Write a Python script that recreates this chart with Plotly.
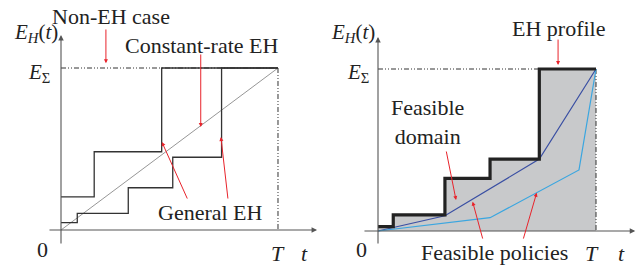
import plotly.graph_objects as go

# ---------------- data (units: T = 10, E_sigma = 10) ----------------
T = 10.0
E_SIGMA = 10.0

# left panel: two general EH profiles (step functions)
gen1_t = [0, 1.53, 4.64, 10]
gen1_e = [2.04, 4.83, 10, 10]
gen2_t = [0, 0.75, 3.1, 5.15, 7.4, 10]
gen2_e = [0.45, 1.03, 2.61, 4.49, 10, 10]
# constant-rate EH
const_t = [0, 10]
const_e = [0, 10]

# right panel: EH profile and feasible policies
prof_t = [0, 0.70, 3.07, 5.14, 7.40, 10]
prof_e = [0.27, 0.99, 3.25, 4.44, 10, 10]
pol1_t = [0, 3.07, 7.40, 10]
pol1_e = [0, 0.94, 4.44, 10]
pol2_t = [0, 5.14, 9.22, 10]
pol2_e = [0, 0.82, 3.77, 10]

FONT = "Liberation Serif"
TXT = "#222222"
RED = "#e8232b"
DASH = "5px,2px,1px,2px,1px,2px"

fig = go.Figure()

def add(tr, right):
    if right:
        tr.update(xaxis="x2", yaxis="y2")
    fig.add_trace(tr)

# ---- left panel ----
add(go.Scatter(x=[0, T], y=[E_SIGMA, E_SIGMA], mode="lines",
               line=dict(color="#333", width=1, dash=DASH)), False)
add(go.Scatter(x=[T, T], y=[E_SIGMA, 0], mode="lines",
               line=dict(color="#333", width=1, dash=DASH)), False)
add(go.Scatter(x=const_t, y=const_e, mode="lines",
               line=dict(color="#8a8a8a", width=0.9)), False)
add(go.Scatter(x=gen1_t, y=gen1_e, mode="lines", line_shape="hv",
               line=dict(color="#333", width=1.3)), False)
add(go.Scatter(x=gen2_t, y=gen2_e, mode="lines", line_shape="hv",
               line=dict(color="#333", width=1.3)), False)

# ---- right panel ----
add(go.Scatter(x=prof_t, y=prof_e, mode="lines", line_shape="hv",
               fill="tozeroy", fillcolor="#c8c9cb", line=dict(width=0)), True)
add(go.Scatter(x=[0, prof_t[-2]], y=[E_SIGMA, E_SIGMA], mode="lines",
               line=dict(color="#333", width=1, dash=DASH)), True)
add(go.Scatter(x=[T, T], y=[E_SIGMA, 0], mode="lines",
               line=dict(color="#333", width=1, dash=DASH)), True)
add(go.Scatter(x=pol1_t, y=pol1_e, mode="lines",
               line=dict(color="#3a4fa3", width=1.2)), True)
add(go.Scatter(x=pol2_t, y=pol2_e, mode="lines",
               line=dict(color="#3aa6e0", width=1.2)), True)
add(go.Scatter(x=prof_t, y=prof_e, mode="lines", line_shape="hv",
               line=dict(color="#222", width=3.2)), True)

ann = []

def arrow(xr, yr, x0, y0, x1, y1, color, head=2, size=1.0, width=1.0):
    ann.append(dict(xref=xr, yref=yr, axref=xr, ayref=yr, x=x1, y=y1, ax=x0, ay=y0,
                    text="", showarrow=True, arrowhead=head, arrowsize=size,
                    arrowwidth=width, arrowcolor=color, standoff=0, startstandoff=0))

def label(xr, yr, x, y, text, size=22, xanchor="center"):
    ann.append(dict(xref=xr, yref=yr, x=x, y=y, text=text, showarrow=False,
                    xanchor=xanchor, yanchor="middle",
                    font=dict(family=FONT, size=size, color=TXT)))

# axes with arrows
for xr, yr, xl, xh, yl, yh in [("x", "y", -0.6, 11.8, -0.93, 12.04),
                               ("x2", "y2", -0.69, 11.8, -0.86, 11.98)]:
    arrow(xr, yr, xl, 0, xh, 0, "#555", head=2, size=1.0, width=1.1)
    arrow(xr, yr, 0, yl, 0, yh, "#555", head=2, size=1.0, width=1.1)

# red pointer arrows (left)
arrow("x", "y", 2.07, 12.47, 2.07, 10.3, RED, size=0.8)
arrow("x", "y", 6.44, 10.93, 6.44, 6.36, RED, size=0.8)
arrow("x", "y", 5.85, 1.85, 4.65, 5.43, RED, size=0.8)
arrow("x", "y", 7.70, 1.85, 7.37, 5.74, RED, size=0.8)
# red pointer arrows (right)
arrow("x2", "y2", 8.26, 11.91, 8.26, 10.25, RED, size=0.8)
arrow("x2", "y2", 3.12, 5.0, 3.58, 1.91, RED, size=0.8)
arrow("x2", "y2", 4.82, -0.56, 4.34, 1.81, RED, size=0.8)
arrow("x2", "y2", 6.65, -0.56, 7.28, 2.36, RED, size=0.8)

# labels (left)
label("x", "y", 2.30, 13.21, "Non-EH case")
label("x", "y", 6.47, 11.42, "Constant-rate EH")
label("x", "y", 6.89, 1.11, "General EH")
label("x", "y", -0.05, 12.16, "<i>E</i><sub><i>H</i></sub>(<i>t</i>)", size=21, xanchor="right")
label("x", "y", -1.01, 9.69, "<i>E</i><sub>Σ</sub>", size=21)
label("x", "y", -0.83, -1.23, "0", size=22)
label("x", "y", 10.0, -1.45, "<i>T</i>", size=22)
label("x", "y", 11.24, -1.45, "<i>t</i>", size=22)
# labels (right)
label("x2", "y2", 8.28, 12.53, "EH profile")
label("x2", "y2", 2.29, 6.70, "Feasible<br>domain")
label("x2", "y2", 5.36, -1.30, "Feasible policies")
label("x2", "y2", -0.05, 12.2, "<i>E</i><sub><i>H</i></sub>(<i>t</i>)", size=21, xanchor="right")
label("x2", "y2", -0.90, 9.75, "<i>E</i><sub>Σ</sub>", size=21)
label("x2", "y2", -0.75, -1.17, "0", size=22)
label("x2", "y2", 9.8, -1.40, "<i>T</i>", size=22)
label("x2", "y2", 11.18, -1.40, "<i>t</i>", size=22)

ax_common = dict(visible=False, showgrid=False, zeroline=False, fixedrange=True)
fig.update_layout(
    width=644, height=265, margin=dict(l=0, r=0, t=0, b=0),
    paper_bgcolor="white", plot_bgcolor="white", showlegend=False,
    font=dict(family=FONT),
    xaxis=dict(domain=[0, 0.5], range=[-2.811, 12.028], **ax_common),
    yaxis=dict(domain=[0, 1], range=[-2.160, 14.198], **ax_common),
    xaxis2=dict(domain=[0.5, 1], range=[-2.569, 12.202], anchor="y2", **ax_common),
    yaxis2=dict(domain=[0, 1], range=[-2.099, 14.259], anchor="x2", **ax_common),
    annotations=ann,
)

fig.write_html("out.html", config={"displayModeBar": False},
               post_script="document.body.style.margin='0';document.body.style.overflow='hidden';")
